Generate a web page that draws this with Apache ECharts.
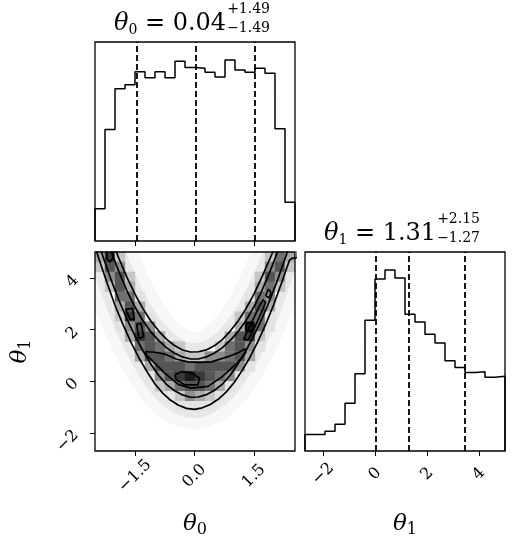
<!DOCTYPE html>
<html>
<head>
<meta charset="utf-8">
<script src="https://cdn.jsdelivr.net/npm/echarts@6/dist/echarts.min.js"></script>
<style>
  html, body { margin: 0; padding: 0; background: #fff; }
  #chart { width: 514px; height: 546px; }
</style>
</head>
<body>
<div id="chart"></div>
<script>
// data ranges of the two parameters and number of bins
const theta0Range = [-2.51, 2.54];
const theta1Range = [-2.7, 5.0];
const nBins = 20;

// 1D histograms (counts per bin)
const theta0Hist = [179, 621, 848, 870, 943, 910, 943, 910, 1002, 967, 962, 940, 914, 1008, 953, 940, 962, 934, 625, 216];
const theta1Hist = [92, 92, 110, 149, 265, 429, 727, 957, 1006, 962, 760, 717, 649, 600, 502, 465, 436, 441, 410, 416];

// [median, +err, -err]
const theta0Stats = [0.04, 1.49, 1.49];
const theta1Stats = [1.31, 2.15, 1.27];

const theta0Ticks = [-1.5, 0, 1.5];
const theta0TickLabels = ['−1.5', '0.0', '1.5'];
const theta1Ticks = [-2, 0, 2, 4];
const theta1TickLabels = ['−2', '0', '2', '4'];

// 2D histogram darkness (0-9), one string per theta1 bin, top row first, theta0 bins left to right
const densityRows = [
  '37200 00000 00000 00253',
  '26400 00000 00000 00462',
  '04620 00000 00000 02640',
  '02630 00000 00000 03520',
  '00551 00000 00000 15400',
  '00363 00000 00000 36300',
  '00275 10000 00002 55100',
  '00146 40000 00003 85100',
  '00037 63000 00036 72000',
  '00005 65320 00256 41000',
  '00003 66532 24456 30000',
  '00000 36665 66664 10000',
  '00000 14678 76541 00000',
  '00000 02356 65310 00000',
  '00000 00124 32100 00000',
  '00000 00011 11000 00000',
  '00000 00000 00000 00000',
  '00000 00000 00000 00000',
  '00000 00000 00000 00000',
  '00000 00000 00000 00000'
];

// contour lines (theta0, theta1)
const contourA = [
  [-2.49, 5.5], [-2.466, 5.0], [-2.4, 4.68], [-2.2, 3.78], [-2.0, 2.92], [-1.8, 2.18], [-1.6, 1.5], [-1.4, 0.9],
  [-1.2, 0.38], [-1.0, -0.1], [-0.8, -0.46], [-0.6, -0.74], [-0.4, -0.93], [-0.2, -1.05], [0.0, -1.09],
  [0.2, -1.03], [0.4, -0.9], [0.6, -0.7], [0.8, -0.42], [1.0, -0.06], [1.2, 0.4], [1.4, 0.92], [1.6, 1.52],
  [1.8, 2.2], [2.0, 2.95], [2.2, 3.8], [2.4, 4.68], [2.46, 4.75], [2.6, 4.78], [2.6, 5.5],
  [2.0, 5.5], [1.98, 5.0], [1.9, 4.72], [1.7, 4.02], [1.5, 3.36], [1.3, 2.8], [1.1, 2.32], [0.9, 1.93],
  [0.7, 1.6], [0.5, 1.37], [0.3, 1.21], [0.1, 1.14], [-0.1, 1.13], [-0.3, 1.21], [-0.5, 1.38], [-0.7, 1.62],
  [-0.9, 1.94], [-1.1, 2.33], [-1.3, 2.81], [-1.5, 3.37], [-1.7, 4.01], [-1.9, 4.73], [-1.97, 5.0], [-2.0, 5.5],
  [-2.49, 5.5]
];
const contourB = [
  [-2.35, 5.5], [-2.35, 5.02], [-2.3, 4.79], [-2.1, 3.91], [-1.9, 3.11], [-1.7, 2.39], [-1.5, 1.75], [-1.3, 1.18],
  [-1.1, 0.66], [-0.9, 0.22], [-0.7, -0.13], [-0.5, -0.37], [-0.3, -0.53], [-0.1, -0.62], [0.1, -0.61],
  [0.3, -0.52], [0.5, -0.36], [0.7, -0.12], [0.9, 0.22], [1.1, 0.67], [1.3, 1.18], [1.5, 1.76], [1.7, 2.4],
  [1.9, 3.12], [2.1, 3.92], [2.3, 4.8], [2.35, 5.02], [2.36, 5.5],
  [2.1, 5.5], [2.098, 5.0], [1.9, 4.21], [1.7, 3.49], [1.5, 2.87], [1.3, 2.34], [1.1, 1.91], [0.9, 1.57],
  [0.7, 1.29], [0.5, 1.08], [0.3, 0.94], [0.1, 0.86], [-0.1, 0.86], [-0.3, 0.94], [-0.5, 1.08], [-0.7, 1.29],
  [-0.9, 1.57], [-1.1, 1.91], [-1.3, 2.34], [-1.5, 2.87], [-1.7, 3.49], [-1.9, 4.21], [-2.098, 5.0], [-2.1, 5.5],
  [-2.35, 5.5]
];
const contourC = [
  [-1.25, 1.15], [-1.0, 1.12], [-0.75, 1.05], [-0.45, 0.85], [-0.16, 0.75], [0.15, 0.73], [0.43, 0.75],
  [0.85, 0.95], [1.1, 1.1], [1.28, 1.25], [1.3, 1.12], [1.2, 0.9], [1.02, 0.62], [0.68, 0.15], [0.34, -0.2],
  [-0.08, -0.27], [-0.41, -0.12], [-0.75, 0.31], [-1.0, 0.7], [-1.2, 1.0], [-1.25, 1.15]
];
const contourC2 = [
  [1.24, 1.62], [1.36, 2.02], [1.5, 2.45], [1.62, 2.85], [1.73, 3.15], [1.8, 3.05], [1.72, 2.75],
  [1.6, 2.35], [1.48, 1.95], [1.36, 1.6], [1.24, 1.62]
];
const islandsD = [
  [[-0.5, 0.24], [-0.33, 0.37], [-0.08, 0.33], [0.13, 0.12], [0.09, -0.14], [-0.245, -0.14], [-0.45, 0.05], [-0.5, 0.24]],
  [[-2.22, 5.1], [-2.21, 4.75], [-2.13, 4.62], [-2.05, 4.78], [-2.07, 5.1], [-2.22, 5.1]],
  [[-1.74, 2.78], [-1.56, 2.82], [-1.52, 2.38], [-1.62, 2.4], [-1.74, 2.78]],
  [[-1.46, 2.2], [-1.35, 2.25], [-1.28, 1.72], [-1.4, 1.66], [-1.46, 2.2]],
  [[1.3, 1.95], [1.32, 2.25], [1.46, 2.3], [1.5, 2.05], [1.42, 1.92], [1.3, 1.95]],
  [[1.8, 3.3], [1.86, 3.55], [1.93, 3.45], [1.9, 3.22], [1.8, 3.3]]
];

const SERIF = '"DejaVu Serif", serif';

const chart = echarts.init(document.getElementById('chart'));

const binW0 = (theta0Range[1] - theta0Range[0]) / nBins;
const binW1 = (theta1Range[1] - theta1Range[0]) / nBins;
const edges = (range, w) => Array.from({ length: nBins + 1 }, (_, i) => range[0] + i * w);
const edges0 = edges(theta0Range, binW0);
const edges1 = edges(theta1Range, binW1);

// step outline of a histogram
function stepData(e, counts) {
  const pts = [[e[0], 0]];
  counts.forEach((c, i) => pts.push([e[i], c]));
  pts.push([e[nBins], counts[nBins - 1]]);
  pts.push([e[nBins], 0]);
  return pts;
}
const quantiles = s => [s[0] - s[2], s[0], s[0] + s[1]];

// cells of the 2D histogram
const cells = [];
densityRows.forEach((row, r) => {
  const s = row.replace(/ /g, '');
  for (let c = 0; c < nBins; c++) {
    const lvl = +s[c];
    if (lvl > 0) cells.push([edges0[c], theta1Range[1] - (r + 1) * binW1, lvl]);
  }
});

// titles: main text + stacked errors, centred over the panel
const ctx = document.createElement('canvas').getContext('2d');
function textW(str, size, italic) {
  ctx.font = (italic ? 'italic ' : '') + size + 'px ' + SERIF;
  return ctx.measureText(str).width;
}
const titleRich = {
  t: { fontFamily: SERIF, fontStyle: 'italic', fontWeight: 'normal', fontSize: 24, lineHeight: 26, color: '#000' },
  s: { fontFamily: SERIF, fontWeight: 'normal', fontSize: 14, lineHeight: 14, verticalAlign: 'bottom', color: '#000' },
  n: { fontFamily: SERIF, fontWeight: 'normal', fontSize: 24, lineHeight: 26, color: '#000' }
};
const smallStyle = { fontFamily: SERIF, fontWeight: 'normal', fontSize: 14, lineHeight: 14, color: '#000' };
function makeTitles(stats, idx, centerX, axisTop) {
  const med = stats[0].toFixed(2);
  const up = '+' + stats[1].toFixed(2);
  const dn = '−' + stats[2].toFixed(2);
  const mainW = textW('θ', 24, true) + textW(idx, 14) + textW(' = ' + med, 24);
  const supW = Math.max(textW(up, 14), textW(dn, 14));
  const left = centerX - (mainW + 1 + supW) / 2 - 3;
  const right = left + mainW;
  return [
    { text: '{t|θ}{s|' + idx + '}{n| = ' + med + '}', left: right, top: axisTop - 31, padding: 0,
      textAlign: 'right', textVerticalAlign: 'top', textStyle: { rich: titleRich, fontWeight: 'normal' } },
    { text: up, left: right + 1, top: axisTop - 39.5, padding: 0,
      textAlign: 'left', textVerticalAlign: 'top', textStyle: smallStyle },
    { text: dn, left: right + 1, top: axisTop - 21, padding: 0,
      textAlign: 'left', textVerticalAlign: 'top', textStyle: smallStyle }
  ];
}

const nameRich = {
  t: { fontFamily: SERIF, fontStyle: 'italic', fontSize: 23, lineHeight: 28, color: '#000' },
  s: { fontFamily: SERIF, fontSize: 16, lineHeight: 16, verticalAlign: 'bottom', color: '#000' }
};
const tickLine = { show: true, length: 5, lineStyle: { color: '#000', width: 1 } };
const noLine = { show: false, onZero: false };
const pick = (ticks, labels) => v => {
  let best = 0;
  ticks.forEach((t, i) => { if (Math.abs(t - v) < Math.abs(ticks[best] - v)) best = i; });
  return labels[best];
};

const gridBase = { show: true, z: 10, backgroundColor: 'rgba(0,0,0,0)', borderColor: '#000', borderWidth: 1.3,
  containLabel: false, outerBoundsMode: 'none' };

const contourLine = data => ({
  type: 'line', xAxisIndex: 1, yAxisIndex: 1, data: data, showSymbol: false, symbol: 'none', z: 5,
  lineStyle: { color: '#000', width: 1.7, join: 'round' }, silent: true
});

const option = {
  animation: false,
  backgroundColor: '#fff',
  title: [].concat(
    makeTitles(theta0Stats, '0', 195, 42),
    makeTitles(theta1Stats, '1', 405, 252)
  ),
  grid: [
    Object.assign({ left: 95, top: 42, width: 200, height: 199 }, gridBase),
    Object.assign({ left: 95, top: 252, width: 200, height: 199 }, gridBase),
    Object.assign({ left: 305, top: 252, width: 200, height: 199 }, gridBase)
  ],
  xAxis: [
    { gridIndex: 0, type: 'value', min: theta0Range[0], max: theta0Range[1], splitLine: { show: false },
      axisLine: noLine, axisTick: Object.assign({ customValues: theta0Ticks }, tickLine),
      axisLabel: { show: false } },
    { gridIndex: 1, type: 'value', min: theta0Range[0], max: theta0Range[1], splitLine: { show: false },
      axisLine: noLine, axisTick: Object.assign({ customValues: theta0Ticks }, tickLine),
      axisLabel: { customValues: theta0Ticks, formatter: pick(theta0Ticks, theta0TickLabels), rotate: 45,
        align: 'center', verticalAlign: 'middle', margin: 25, fontFamily: SERIF, fontSize: 16, color: '#000' },
      name: '{t|θ}{s|0}', nameLocation: 'middle', nameGap: 59, nameTextStyle: { rich: nameRich } },
    { gridIndex: 2, type: 'value', min: theta1Range[0], max: theta1Range[1], splitLine: { show: false },
      axisLine: noLine, axisTick: Object.assign({ customValues: theta1Ticks }, tickLine),
      axisLabel: { customValues: theta1Ticks, formatter: pick(theta1Ticks, theta1TickLabels), rotate: 45,
        align: 'center', verticalAlign: 'middle', margin: 23, fontFamily: SERIF, fontSize: 16, color: '#000' },
      name: '{t|θ}{s|1}', nameLocation: 'middle', nameGap: 59, nameTextStyle: { rich: nameRich } }
  ],
  yAxis: [
    { gridIndex: 0, type: 'value', min: 0, max: 1.1 * Math.max(...theta0Hist),
      axisLine: noLine, axisTick: { show: false }, axisLabel: { show: false }, splitLine: { show: false } },
    { gridIndex: 1, type: 'value', min: theta1Range[0], max: theta1Range[1], splitLine: { show: false },
      axisLine: noLine, axisTick: Object.assign({ customValues: theta1Ticks }, tickLine),
      axisLabel: { customValues: theta1Ticks, formatter: pick(theta1Ticks, theta1TickLabels), rotate: 45,
        margin: 19, fontFamily: SERIF, fontSize: 16, color: '#000' },
      name: '{t|θ}{s|1}', nameLocation: 'middle', nameRotate: 90, nameGap: 61, nameTextStyle: { rich: nameRich } },
    { gridIndex: 2, type: 'value', min: 0, max: 1.1 * Math.max(...theta1Hist),
      axisLine: noLine, axisTick: { show: false }, axisLabel: { show: false }, splitLine: { show: false } }
  ],
  series: [
    // theta0 histogram
    { type: 'line', xAxisIndex: 0, yAxisIndex: 0, data: stepData(edges0, theta0Hist), step: 'end',
      showSymbol: false, symbol: 'none', lineStyle: { color: '#000', width: 1.5 }, silent: true,
      markLine: { symbol: ['none', 'none'], silent: true, label: { show: false },
        lineStyle: { color: '#000', type: [6, 3], width: 1.8 },
        data: quantiles(theta0Stats).map(v => ({ xAxis: v })) } },
    // theta1 histogram
    { type: 'line', xAxisIndex: 2, yAxisIndex: 2, data: stepData(edges1, theta1Hist), step: 'end',
      showSymbol: false, symbol: 'none', lineStyle: { color: '#000', width: 1.5 }, silent: true,
      markLine: { symbol: ['none', 'none'], silent: true, label: { show: false },
        lineStyle: { color: '#000', type: [6, 3], width: 1.8 },
        data: quantiles(theta1Stats).map(v => ({ xAxis: v })) } },
    // haze of samples around the outer contour, then white inside it
    { type: 'custom', xAxisIndex: 1, yAxisIndex: 1, data: contourA, z: 1, clip: true, silent: true,
      encode: { x: 0, y: 1 },
      renderItem: (params, api) => {
        if (params.dataIndex !== 0) return null;
        const pts = contourA.map(p => api.coord(p));
        return { type: 'group', children: [
          { type: 'polyline', shape: { points: pts },
            style: { fill: null, stroke: 'rgba(0,0,0,0.03)', lineWidth: 40, lineJoin: 'round' } },
          { type: 'polyline', shape: { points: pts },
            style: { fill: null, stroke: 'rgba(0,0,0,0.06)', lineWidth: 18, lineJoin: 'round' } },
          { type: 'polygon', shape: { points: pts }, style: { fill: '#fff' } }
        ] };
      } },
    // 2D histogram cells
    { type: 'custom', xAxisIndex: 1, yAxisIndex: 1, data: cells, z: 3, clip: true, silent: true,
      encode: { x: 0, y: 1 },
      renderItem: (params, api) => {
        const x = api.value(0), y = api.value(1), lvl = api.value(2);
        const p0 = api.coord([x, y]);
        const p1 = api.coord([x + binW0, y + binW1]);
        const g = Math.round(255 * (1 - lvl / 9));
        return { type: 'rect',
          shape: { x: p0[0] - 0.2, y: p1[1] - 0.2, width: p1[0] - p0[0] + 0.4, height: p0[1] - p1[1] + 0.4 },
          style: { fill: 'rgb(' + g + ',' + g + ',' + g + ')' } };
      } },
    contourLine(contourA),
    contourLine(contourB),
    contourLine(contourC),
    contourLine(contourC2)
  ].concat(islandsD.map(contourLine))
};

chart.setOption(option);
window.addEventListener('resize', function () {
  chart.resize();
});
</script>
</body>
</html>
